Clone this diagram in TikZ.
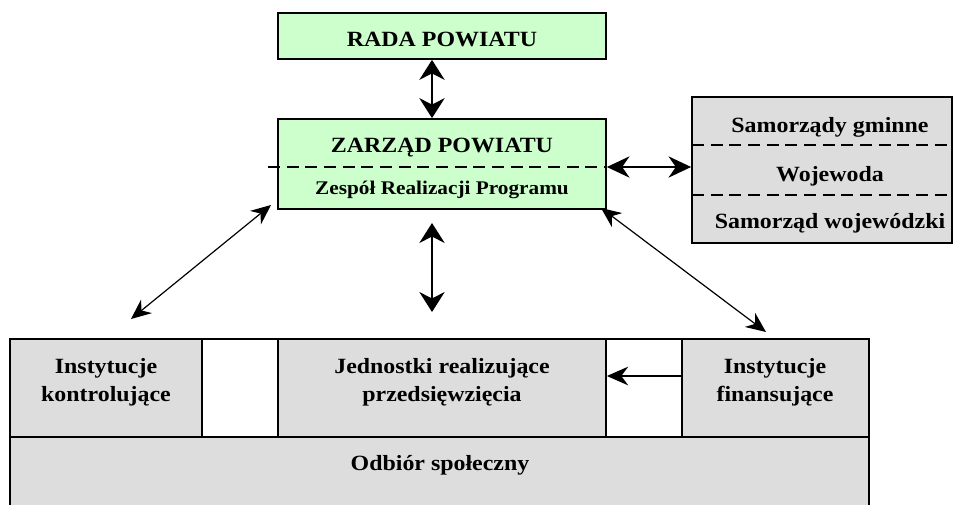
\documentclass[tikz,border=0pt]{standalone}
\usepackage{fontspec}
\setmainfont{Liberation Serif}[FakeStretch=1.1]
\usetikzlibrary{arrows.meta,fit}
\definecolor{lgreen}{HTML}{CCFFCC}
\definecolor{lgray}{HTML}{DDDDDD}
\begin{document}
\begin{tikzpicture}[x=0.75pt,y=-0.75pt,
  box/.style={draw=black, line width=1.3pt, inner sep=0pt},
  greenbox/.style={box, fill=lgreen},
  graybox/.style={box, fill=lgray},
  whitebox/.style={box, fill=white},
  lbl/.style={font=\bfseries\fontsize{16.3}{19}\selectfont, inner sep=0pt, anchor=base},
  lblsmall/.style={font=\bfseries\fontsize{14.5}{17}\selectfont, inner sep=0pt, anchor=base},
  sepline/.style={dash pattern=on 9pt off 5pt, line width=1.3pt},
  thinarrow/.style={{Stealth[length=15pt,width=13pt]}-{Stealth[length=15pt,width=13pt]}, line width=0.9pt},
  bigarrow/.style={{Stealth[length=15pt,width=19pt]}-{Stealth[length=15pt,width=19pt]}, line width=1.5pt},
  sidearrow/.style={{Stealth[length=17pt,width=16pt]}-{Stealth[length=17pt,width=16pt]}, line width=1.1pt},
  onearrow/.style={-{Stealth[length=16pt,width=14pt]}, line width=1.1pt},
]
\useasboundingbox (0,0) rectangle (953,504);

% boxes
\node[greenbox, fit={(278,13) (606,59)}] (rada) {};
\node[greenbox, fit={(278,119) (606,209)}] (zarzad) {};
\node[graybox, fit={(692,97) (952,243)}] (samorz) {};
\node[whitebox, fit={(10,339) (869,437)}] (row) {};
\node[graybox, fit={(10,339) (202,437)}] (kontr) {};
\node[graybox, fit={(278,339) (606,437)}] (jedn) {};
\node[graybox, fit={(682,339) (869,437)}] (finans) {};
\node[graybox, fit={(10,437) (869,530)}] (odbior) {};

% separators
\coordinate (dz1) at (268,167);
\draw[sepline] (dz1) -- (zarzad.east |- dz1);
\coordinate (ds1) at (692,145);
\coordinate (ds2) at (692,195);
\draw[sepline] (ds1) -- (samorz.east |- ds1);
\draw[sepline] (ds2) -- (samorz.east |- ds2);

% texts
\node[lbl] (tRada) at (442,46) {RADA POWIATU};
\node[lbl] (tZarz) at (442,152) {ZARZĄD POWIATU};
\node[lblsmall] (tZesp) at (442,194) {Zespół Realizacji Programu};
\node[lbl] (tGm) at (830,132) {Samorządy gminne};
\node[lbl] (tWoj) at (830,181) {Wojewoda};
\node[lbl] (tSw) at (830,228) {Samorząd wojewódzki};
\node[lbl] (tK1) at (106,373) {Instytucje};
\node[lbl] (tK2) at (106,401) {kontrolujące};
\node[lbl] (tJ1) at (442,373) {Jednostki realizujące};
\node[lbl] (tJ2) at (442,401) {przedsięwzięcia};
\node[lbl] (tF1) at (775,373) {Instytucje};
\node[lbl] (tF2) at (775,401) {finansujące};
\node[lbl] (tO) at (440,470) {Odbiór społeczny};

% connectors
\coordinate (ax) at (432,0);
\draw[bigarrow] (rada.south -| ax) -- (zarzad.north -| ax);
\coordinate (m1) at (432,223);
\coordinate (m2) at (432,312);
\draw[bigarrow] (m1) -- (m2);
\draw[sidearrow] (zarzad.east |- dz1) -- (samorz.west |- dz1);
\coordinate (l1) at (271,205);
\coordinate (l2) at (131,319);
\draw[thinarrow] (l1) -- (l2);
\coordinate (r1) at (601,208);
\coordinate (r2) at (766,332);
\draw[thinarrow] (r1) -- (r2);
\coordinate (fa) at (0,376);
\draw[onearrow] (finans.west |- fa) -- (jedn.east |- fa);
\end{tikzpicture}
\end{document}
